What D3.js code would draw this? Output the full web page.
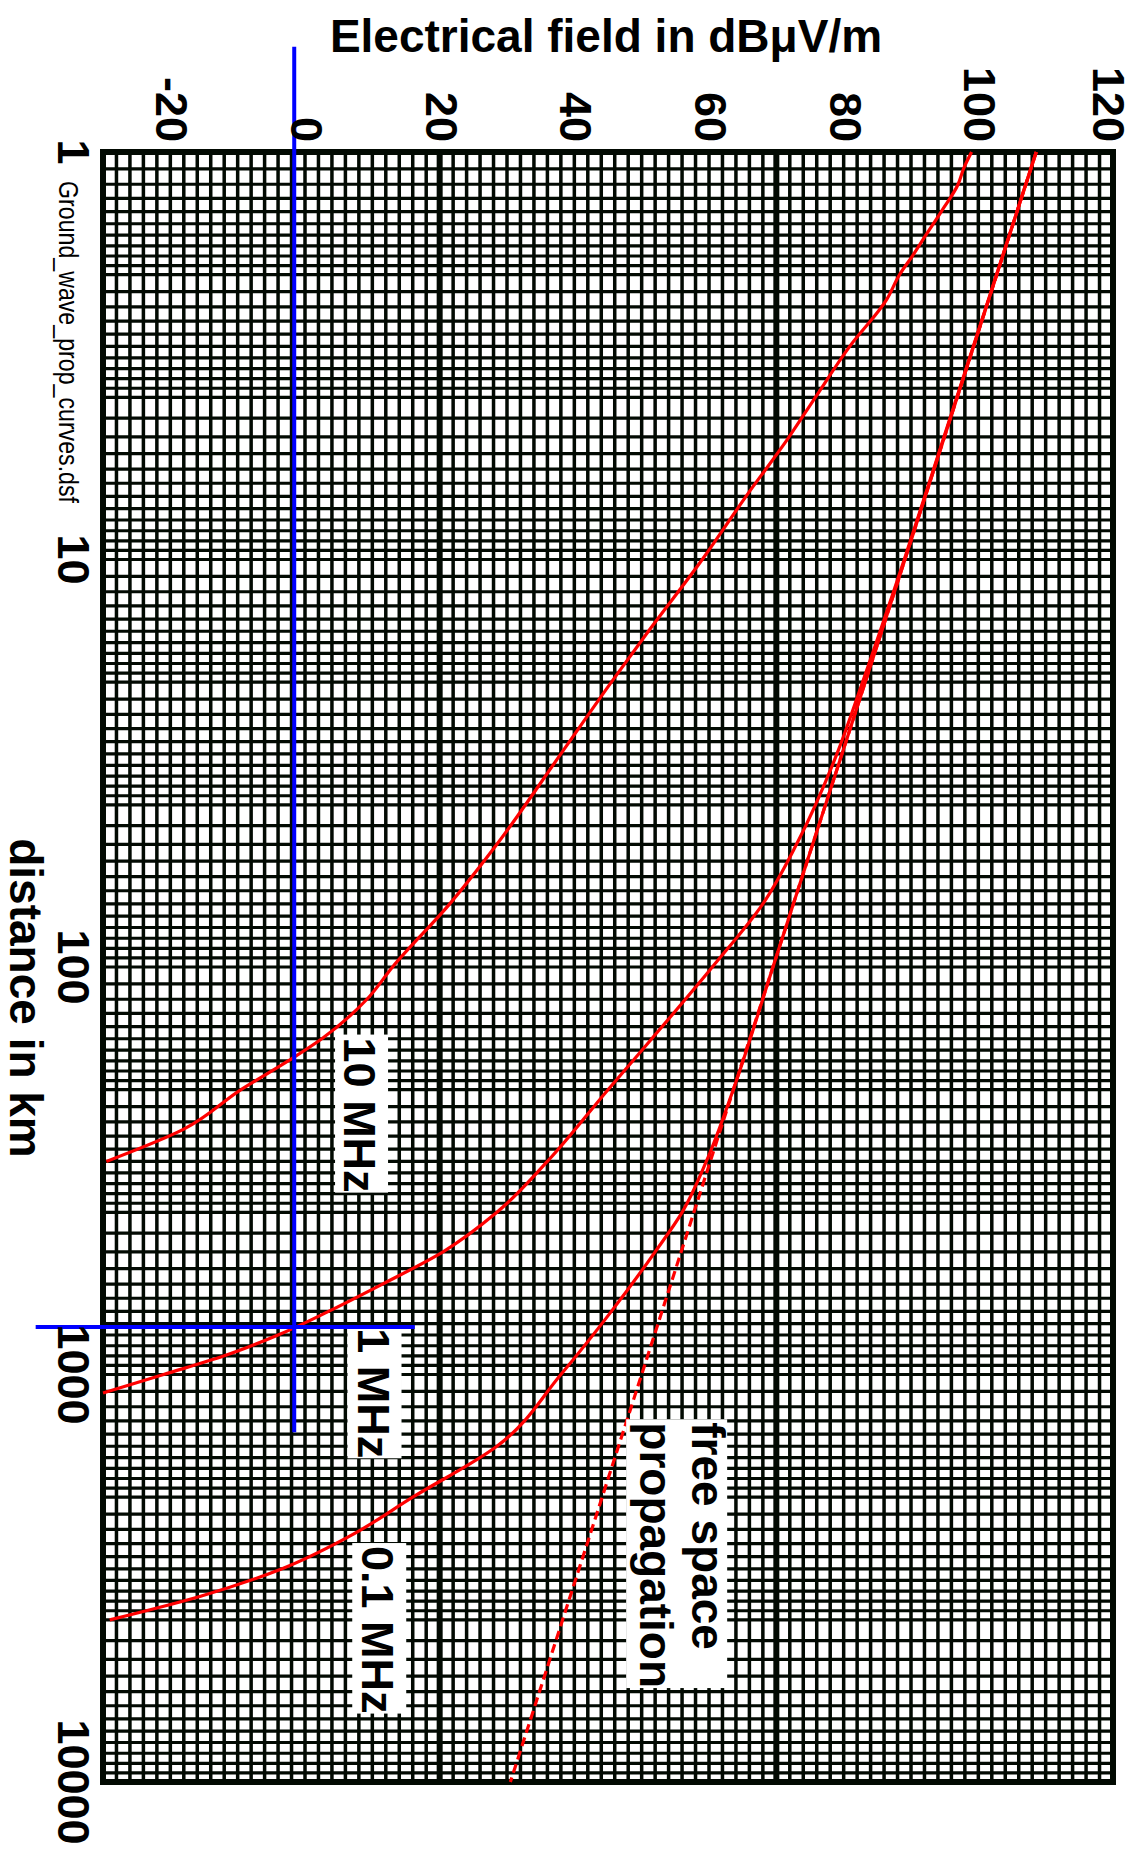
<!DOCTYPE html>
<html><head><meta charset="utf-8">
<script src="https://cdn.jsdelivr.net/npm/d3@7"></script>
<style>html,body{margin:0;padding:0;background:#fff;} svg{display:block;font-family:"Liberation Sans",Arial,Helvetica,sans-serif;}</style>
</head><body><svg id="chart" width="1137" height="1857"></svg>
<script>
// ---------- data ----------
const dbTicks = [-20, 0, 20, 40, 60, 80, 100, 120];
const kmTicks = [1, 10, 100, 1000, 10000];
const gridMantissas = [1,1.1,1.2,1.3,1.4,1.5,1.6,1.7,1.8,1.9,2,2.2,2.4,2.6,2.8,3,3.2,3.4,3.6,3.8,4,4.5,5,5.5,6,6.5,7,7.5,8,8.5,9,9.5];

const kmFree = [1, 10, 100, 1000, 10000];
const dbFree = [108.6, 89.1, 69.5, 50.0, 30.5];

const km10MHz = [1, 1.1, 1.2, 1.4, 1.6, 1.8, 2, 2.3, 3, 4, 5, 7, 10, 15, 20, 30, 50, 70, 100, 120, 150, 170, 200, 250, 300];
const db10MHz = [99.0, 97.8, 97.0, 94.5, 92.2, 90.2, 88.3, 86.4, 80.9, 75.8, 71.9, 65.5, 59.0, 51.0, 45.5, 38.0, 28.5, 21.5, 13.0, 9.2, 2.5, -2.5, -9.5, -18.0, -29.5];

const km1MHz = [1, 2, 5, 10, 20, 30, 50, 70, 100, 150, 200, 300, 400, 500, 600, 700, 800, 900, 1000, 1110];
const db1MHz = [108.6, 102.7, 94.9, 89.0, 82.8, 79.0, 73.0, 68.0, 60.5, 51.5, 45.0, 36.0, 28.5, 20.5, 11.5, 3.5, -4.0, -12.0, -21.0, -30.0];

const km01MHz = [1, 10, 50, 100, 200, 300, 400, 500, 700, 1000, 1500, 2000, 2500, 3000, 3500, 4000];
const db01MHz = [108.6, 89.1, 75.4, 69.5, 63.6, 59.6, 56.0, 52.0, 45.5, 38.0, 28.5, 16.0, 6.5, -3.5, -15.5, -29.0];

const crossDb = -1.6, crossKm = 765;

// ---------- setup ----------
const svg = d3.select("#chart");
const x = d3.scaleLinear().domain([-30, 120]).range([103, 1113]);
const y = d3.scaleLog().domain([1, 10000]).range([152, 1782]);
const font = '"Liberation Sans", Arial, Helvetica, sans-serif';

// ---------- grid ----------
const gridDb = d3.range(-30, 121, 2);
const gridKm = [];
[1, 10, 100, 1000].forEach(dec => gridMantissas.forEach(m => gridKm.push(+(m * dec).toPrecision(6))));
gridKm.push(10000);

const grid = svg.append("g");
grid.selectAll("line.v").data(gridDb).join("line").attr("class", "v")
  .attr("x1", d => x(d)).attr("x2", d => x(d))
  .attr("y1", y(1)).attr("y2", y(10000))
  .attr("stroke", "#020a02")
  .attr("stroke-width", d => ((d + 30) % 50 === 0) ? 6 : 3.5);
grid.selectAll("line.h").data(gridKm).join("line").attr("class", "h")
  .attr("y1", d => y(d)).attr("y2", d => y(d))
  .attr("x1", x(-30)).attr("x2", x(120))
  .attr("stroke", "#020a02")
  .attr("stroke-width", 3.2);
svg.append("rect")
  .attr("x", x(-30)).attr("y", y(1))
  .attr("width", x(120) - x(-30)).attr("height", y(10000) - y(1))
  .attr("fill", "none").attr("stroke", "#020a02").attr("stroke-width", 6);

// ---------- curves ----------
const line = d3.line().x(d => x(d[1])).y(d => y(d[0])).curve(d3.curveMonotoneY);
const zip = (a, b) => a.map((v, i) => [v, b[i]]);
const curves = svg.append("g").attr("fill", "none").attr("stroke", "#ff0000").attr("stroke-width", 3.2);
curves.append("path").attr("d", line(zip(kmFree, dbFree))).attr("stroke-dasharray", "9,5");
curves.append("path").attr("d", line(zip(km01MHz, db01MHz)));
curves.append("path").attr("d", line(zip(km1MHz, db1MHz)));
curves.append("path").attr("d", line(zip(km10MHz, db10MHz)));

// ---------- rotated labels with white boxes ----------
function boxLabel(lines, db, km, fs, padTop, padBottom, lineGap) {
  const g = svg.append("g").attr("transform", `translate(${x(db)},${y(km)}) rotate(90)`);
  const rect = g.append("rect").attr("fill", "#fff");
  const t = g.append("text").attr("font-family", font).attr("font-weight", "bold")
    .attr("font-size", fs).attr("fill", "#000");
  lines.forEach((s, i) => t.append("tspan").attr("x", 0).attr("y", i * lineGap).text(s));
  const bb = t.node().getBBox();
  rect.attr("x", -3).attr("width", bb.width + 3)
    .attr("y", -padTop).attr("height", padTop + padBottom + (lines.length - 1) * lineGap);
}
boxLabel(["10 MHz"], 5.8, 149, 45, 44, 9, 0);
boxLabel(["1 MHz"], 7.8, 770, 45, 44, 10, 0);
boxLabel(["0.1 MHz"], 8.5, 2636, 45, 44, 10, 0);
boxLabel(["free space", "propagation"], 57.5, 1310, 46, 35, 14, 52);

// ---------- blue cross ----------
const blue = svg.append("g").attr("stroke", "#0000ff").attr("stroke-width", 4);
blue.append("line").attr("x1", x(crossDb)).attr("x2", x(crossDb)).attr("y1", y(0.552)).attr("y2", y(1385));
blue.append("line").attr("y1", y(crossKm)).attr("y2", y(crossKm)).attr("x1", x(-40)).attr("x2", x(16.3));

// ---------- axes labels ----------
svg.append("g").selectAll("text").data(dbTicks).join("text")
  .attr("transform", d => `translate(${Math.min(x(d) - 14, 1093)},142) rotate(90)`)
  .attr("text-anchor", "end").attr("font-family", font).attr("font-weight", "bold")
  .attr("font-size", 45).attr("fill", "#000").text(d => d);

svg.append("g").selectAll("text").data(kmTicks).join("text")
  .attr("transform", d => `translate(58,${y(d)}) rotate(90)`)
  .attr("text-anchor", "middle").attr("font-family", font).attr("font-weight", "bold")
  .attr("font-size", 45).attr("fill", "#000").text(d => d);

svg.append("text").attr("x", 606).attr("y", 52).attr("text-anchor", "middle")
  .attr("font-family", font).attr("font-weight", "bold").attr("font-size", 46)
  .attr("fill", "#000").text("Electrical field in dBμV/m");

svg.append("text").attr("transform", "translate(10,998) rotate(90)").attr("text-anchor", "middle")
  .attr("font-family", font).attr("font-weight", "bold").attr("font-size", 46)
  .attr("fill", "#000").text("distance in km");

svg.append("text").attr("transform", "translate(59,181) rotate(90)").attr("text-anchor", "start")
  .attr("font-family", font).attr("font-size", 27).attr("fill", "#000")
  .attr("textLength", 322).attr("lengthAdjust", "spacingAndGlyphs")
  .text("Ground_wave_prop_curves.dsf");
</script></body></html>
